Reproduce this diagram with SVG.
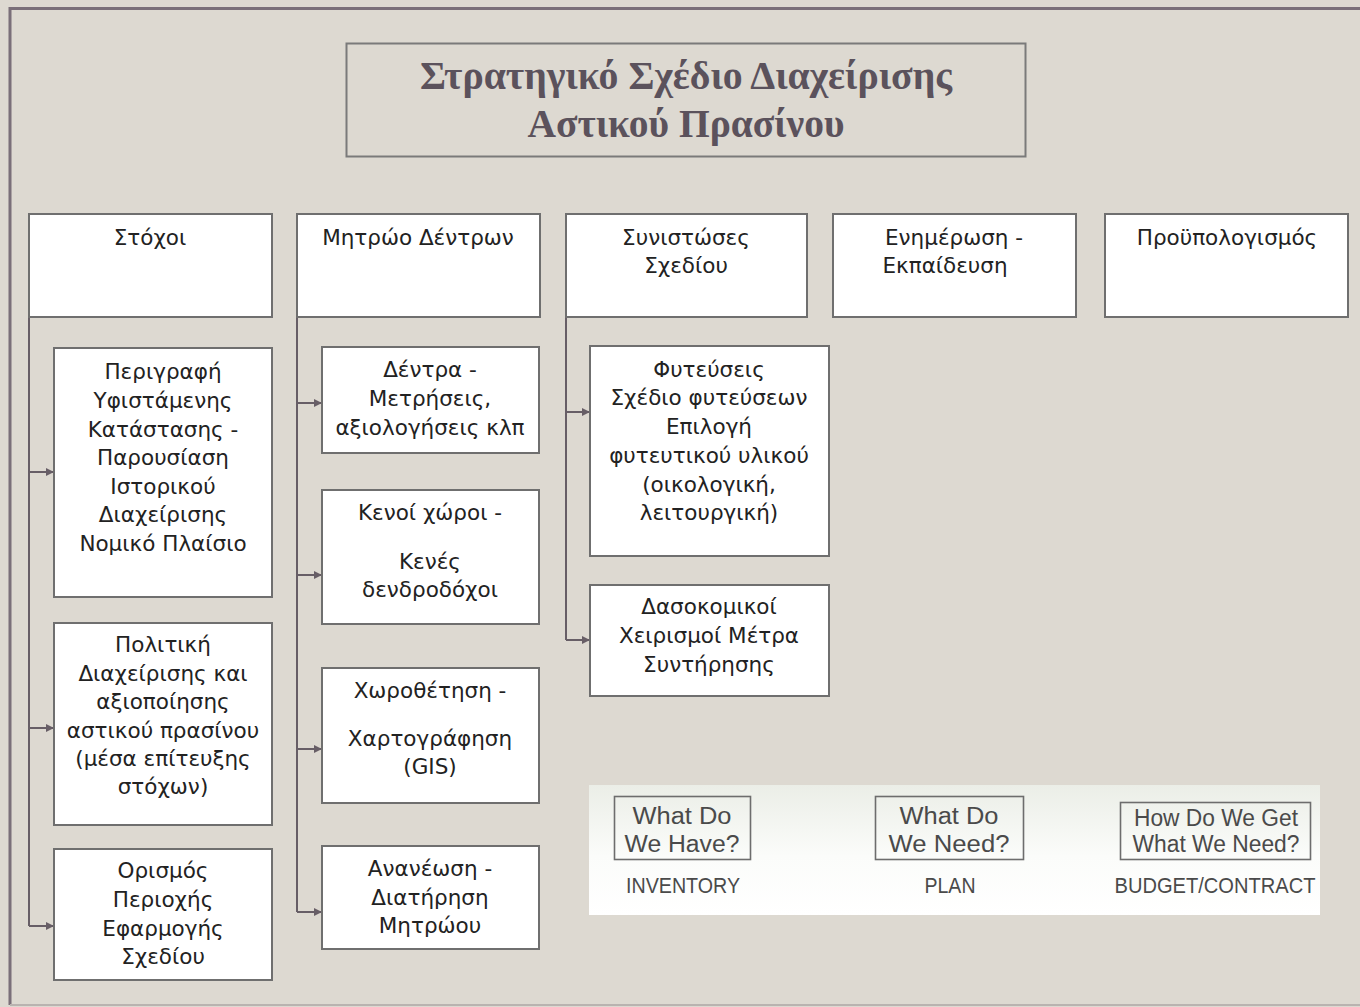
<svg xmlns="http://www.w3.org/2000/svg" width="1360" height="1007" viewBox="0 0 1360 1007">
  <defs>
    <marker id="arrow" viewBox="0 0 10 10" refX="10" refY="5" markerWidth="9" markerHeight="8" markerUnits="userSpaceOnUse" orient="auto">
      <path d="M0,0 L10,5 L0,10 Z" fill="#675e66"/>
    </marker>
    <linearGradient id="panelFill" x1="0" y1="0" x2="0" y2="1">
      <stop offset="0" stop-color="#ebeee7"/>
      <stop offset="0.55" stop-color="#fbfcfa"/>
      <stop offset="1" stop-color="#ffffff"/>
    </linearGradient>
    <style>
      .box { fill: #ffffff; stroke: #6f6f6f; stroke-width: 2; }
      .lbl { font-family: "DejaVu Sans", "Liberation Sans", sans-serif; font-size: 21.5px; fill: #222222; text-anchor: middle; }
      .title { font-family: "Liberation Serif", "DejaVu Serif", serif; font-weight: bold; font-size: 39px; fill: #5b525c; text-anchor: middle; }
      .conn { fill: none; stroke: #675e66; stroke-width: 2; }
      .qbox { fill: none; stroke: #6d6d6d; stroke-width: 1.6; }
      .q { font-family: "Liberation Sans", "DejaVu Sans", sans-serif; font-size: 23px; fill: #4a4a4a; text-anchor: middle; }
      .cap { font-family: "Liberation Sans", "DejaVu Sans", sans-serif; font-size: 22px; fill: #4a4a4a; text-anchor: middle; }
    </style>
  </defs>

  <!-- page background and frame -->
  <rect x="0" y="0" width="1360" height="1007" fill="#ddd9d1"/>
  <path d="M10,1005 L10,8.5 L1362,8.5" fill="none" stroke="#7a6f79" stroke-width="3"/>
  <line x1="10" y1="1005" x2="1362" y2="1005" stroke="#b9b3b0" stroke-width="2"/>

  <!-- title -->
  <g id="title">
    <rect x="346.5" y="43.5" width="679" height="113" fill="#ddd9d1" stroke="#7a7a7a" stroke-width="2"/>
    <text class="title" x="686" y="89" textLength="532" lengthAdjust="spacingAndGlyphs">Στρατηγικό Σχέδιο Διαχείρισης</text>
    <text class="title" x="686" y="137" textLength="317" lengthAdjust="spacingAndGlyphs">Αστικού Πρασίνου</text>
  </g>

  <!-- connectors -->
  <g id="connectors">
    <path class="conn" d="M29,317 L29,926"/>
    <path class="conn" d="M29,472 L54,472" marker-end="url(#arrow)"/>
    <path class="conn" d="M29,728 L54,728" marker-end="url(#arrow)"/>
    <path class="conn" d="M29,926 L54,926" marker-end="url(#arrow)"/>

    <path class="conn" d="M297,317 L297,912"/>
    <path class="conn" d="M297,403 L322,403" marker-end="url(#arrow)"/>
    <path class="conn" d="M297,575 L322,575" marker-end="url(#arrow)"/>
    <path class="conn" d="M297,749 L322,749" marker-end="url(#arrow)"/>
    <path class="conn" d="M297,912 L322,912" marker-end="url(#arrow)"/>

    <path class="conn" d="M566,317 L566,640"/>
    <path class="conn" d="M566,412 L590,412" marker-end="url(#arrow)"/>
    <path class="conn" d="M566,640 L590,640" marker-end="url(#arrow)"/>
  </g>

  <!-- top row -->
  <g id="stoxoi">
    <rect class="box" x="29" y="214" width="243" height="103"/>
    <text class="lbl" x="150" y="245">Στόχοι</text>
  </g>
  <g id="mitroo">
    <rect class="box" x="297" y="214" width="243" height="103"/>
    <text class="lbl" x="418" y="245">Μητρώο Δέντρων</text>
  </g>
  <g id="synistoses">
    <rect class="box" x="566" y="214" width="241" height="103"/>
    <text class="lbl" x="686" y="245">Συνιστώσες</text>
    <text class="lbl" x="686" y="273">Σχεδίου</text>
  </g>
  <g id="enimerosi">
    <rect class="box" x="833" y="214" width="243" height="103"/>
    <text class="lbl" x="954" y="245">Ενημέρωση -</text>
    <text class="lbl" x="945" y="273">Εκπαίδευση</text>
  </g>
  <g id="proypologismos">
    <rect class="box" x="1105" y="214" width="243" height="103"/>
    <text class="lbl" x="1227" y="245">Προϋπολογισμός</text>
  </g>

  <!-- column 1 -->
  <g id="perigrafi">
    <rect class="box" x="54" y="348" width="218" height="249"/>
    <text class="lbl" x="163" y="379">Περιγραφή</text>
    <text class="lbl" x="163" y="408">Υφιστάμενης</text>
    <text class="lbl" x="163" y="437">Κατάστασης -</text>
    <text class="lbl" x="163" y="465">Παρουσίαση</text>
    <text class="lbl" x="163" y="494">Ιστορικού</text>
    <text class="lbl" x="163" y="522">Διαχείρισης</text>
    <text class="lbl" x="163" y="551">Νομικό Πλαίσιο</text>
  </g>
  <g id="politiki">
    <rect class="box" x="54" y="623" width="218" height="202"/>
    <text class="lbl" x="163" y="652">Πολιτική</text>
    <text class="lbl" x="163" y="681">Διαχείρισης και</text>
    <text class="lbl" x="163" y="709">αξιοποίησης</text>
    <text class="lbl" x="163" y="738">αστικού πρασίνου</text>
    <text class="lbl" x="163" y="766">(μέσα επίτευξης</text>
    <text class="lbl" x="163" y="794">στόχων)</text>
  </g>
  <g id="orismos">
    <rect class="box" x="54" y="849" width="218" height="131"/>
    <text class="lbl" x="163" y="878">Ορισμός</text>
    <text class="lbl" x="163" y="907">Περιοχής</text>
    <text class="lbl" x="163" y="936">Εφαρμογής</text>
    <text class="lbl" x="163" y="964">Σχεδίου</text>
  </g>

  <!-- column 2 -->
  <g id="dentra">
    <rect class="box" x="322" y="347" width="217" height="106"/>
    <text class="lbl" x="430" y="377">Δέντρα -</text>
    <text class="lbl" x="430" y="406">Μετρήσεις,</text>
    <text class="lbl" x="430" y="435">αξιολογήσεις κλπ</text>
  </g>
  <g id="kenoi">
    <rect class="box" x="322" y="490" width="217" height="134"/>
    <text class="lbl" x="430" y="520">Κενοί χώροι -</text>
    <text class="lbl" x="430" y="569">Κενές</text>
    <text class="lbl" x="430" y="597">δενδροδόχοι</text>
  </g>
  <g id="xorothetisi">
    <rect class="box" x="322" y="668" width="217" height="135"/>
    <text class="lbl" x="430" y="698">Χωροθέτηση -</text>
    <text class="lbl" x="430" y="746">Χαρτογράφηση</text>
    <text class="lbl" x="430" y="774">(GIS)</text>
  </g>
  <g id="ananeosi">
    <rect class="box" x="322" y="846" width="217" height="103"/>
    <text class="lbl" x="430" y="876">Ανανέωση -</text>
    <text class="lbl" x="430" y="905">Διατήρηση</text>
    <text class="lbl" x="430" y="933">Μητρώου</text>
  </g>

  <!-- column 3 -->
  <g id="fyteuseis">
    <rect class="box" x="590" y="346" width="239" height="210"/>
    <text class="lbl" x="709" y="377">Φυτεύσεις</text>
    <text class="lbl" x="709" y="405">Σχέδιο φυτεύσεων</text>
    <text class="lbl" x="709" y="434">Επιλογή</text>
    <text class="lbl" x="709" y="463">φυτευτικού υλικού</text>
    <text class="lbl" x="709" y="492">(οικολογική,</text>
    <text class="lbl" x="709" y="520">λειτουργική)</text>
  </g>
  <g id="dasokomikoi">
    <rect class="box" x="590" y="585" width="239" height="111"/>
    <text class="lbl" x="709" y="614">Δασοκομικοί</text>
    <text class="lbl" x="709" y="643">Χειρισμοί Μέτρα</text>
    <text class="lbl" x="709" y="672">Συντήρησης</text>
  </g>

  <!-- planning questions panel -->
  <g id="questions">
    <rect x="589" y="785" width="731" height="130" fill="url(#panelFill)"/>
    <g id="inventory">
      <rect class="qbox" x="614.5" y="796.5" width="136" height="63"/>
      <text class="q" x="682" y="824" textLength="99" lengthAdjust="spacingAndGlyphs">What Do</text>
      <text class="q" x="682" y="852" textLength="115" lengthAdjust="spacingAndGlyphs">We Have?</text>
      <text class="cap" x="683" y="893" textLength="114" lengthAdjust="spacingAndGlyphs">INVENTORY</text>
    </g>
    <g id="plan">
      <rect class="qbox" x="875.5" y="796.5" width="148" height="63"/>
      <text class="q" x="949" y="824" textLength="99" lengthAdjust="spacingAndGlyphs">What Do</text>
      <text class="q" x="949" y="852" textLength="121" lengthAdjust="spacingAndGlyphs">We Need?</text>
      <text class="cap" x="950" y="893" textLength="51" lengthAdjust="spacingAndGlyphs">PLAN</text>
    </g>
    <g id="budget">
      <rect class="qbox" x="1120.5" y="802.5" width="190" height="57"/>
      <text class="q" x="1216" y="826" textLength="164" lengthAdjust="spacingAndGlyphs">How Do We Get</text>
      <text class="q" x="1216" y="852" textLength="167" lengthAdjust="spacingAndGlyphs">What We Need?</text>
      <text class="cap" x="1215" y="893" textLength="201" lengthAdjust="spacingAndGlyphs">BUDGET/CONTRACT</text>
    </g>
  </g>
</svg>
